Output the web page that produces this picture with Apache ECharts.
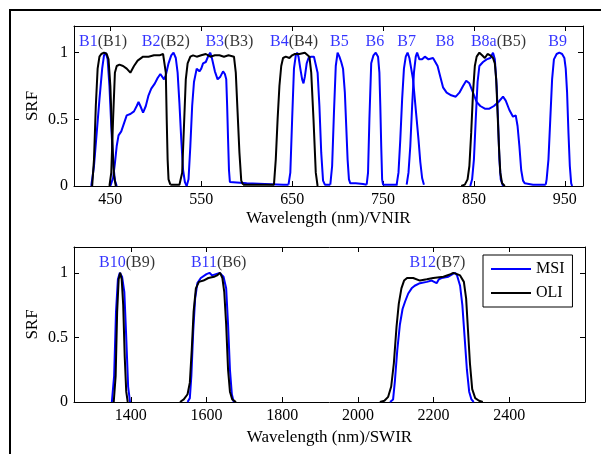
<!DOCTYPE html>
<html><head><meta charset="utf-8">
<script src="https://cdn.jsdelivr.net/npm/echarts@6/dist/echarts.min.js"></script>
<style>html,body{margin:0;padding:0;background:#fff}#c{width:601px;height:454px}</style>
</head><body><div id="c"></div>
<script>
// ---------- VNIR (top panel) : MSI bands ----------
const msiB1 = [[429,0],[432,0.15],[435,0.4],[438,0.65],[441,0.88],[443,0.98],[445,1.0],[447,0.95],[449,0.75],[451,0.45],[453,0.18],[455,0.04],[457,0]];
const msiB2 = [[450,0],[453,0.06],[455,0.17],[457,0.3],[459,0.38],[462,0.41],[465,0.47],[468,0.53],[472,0.54],[476,0.56],[479,0.6],[481,0.63],[483,0.6],[486,0.55],[489,0.6],[492,0.68],[495,0.73],[499,0.77],[502,0.81],[505,0.84],[507,0.83],[509,0.8],[511,0.83],[514,0.92],[517,0.98],[519.5,1.0],[522,0.96],[524,0.85],[526,0.62],[528,0.35],[530,0.12],[532,0.03],[534,0]];
const msiB3 = [[534,0],[536,0.05],[538,0.3],[540,0.6],[542,0.78],[545,0.88],[548,0.86],[550,0.88],[552,0.92],[555,0.93],[558,0.98],[560,1.0],[562,0.95],[565,0.86],[568,0.8],[571,0.82],[574,0.86],[576,0.84],[577.5,0.8],[578.5,0.6],[579.5,0.35],[580.5,0.12],[581.5,0.03],[583,0.02],[600,0.02],[620,0.015],[640,0.01],[646,0.01]];
const msiB4 = [[646,0.01],[648,0.1],[650,0.5],[652,0.88],[654,0.98],[655.5,1.0],[657,0.97],[659,0.88],[661,0.8],[662.5,0.77],[664,0.82],[666,0.92],[668,0.96],[671,0.97],[674,0.97],[676,0.96],[678,0.85],[680,0.6],[682,0.25],[684,0.04],[686,0.01],[692,0.01]];
const msiB5 = [[692,0.01],[694,0.15],[696,0.55],[698,0.9],[700,1.0],[702,0.97],[704,0.93],[706,0.88],[708,0.7],[709.5,0.45],[711,0.2],[712.5,0.05],[714,0.02],[720,0.02],[728,0.015],[732,0.01]];
const msiB6 = [[732,0.01],[733.5,0.1],[735,0.5],[737,0.92],[739.5,0.98],[742,1.0],[744.5,0.97],[746,0.85],[747,0.6],[748,0.3],[749,0.05],[750,0.01],[766,0.01]];
const msiB7 = [[765,0.01],[767,0.1],[769,0.35],[771,0.65],[773,0.88],[775,0.97],[777,1.0],[779,0.96],[781,0.88],[783,0.8],[785,0.65],[787,0.5],[789,0.35],[791,0.18],[793,0.06],[795,0.01]];
const msiB8 = [[776,0.01],[778,0.1],[780,0.3],[782,0.6],[784,0.85],[786,0.97],[787.5,1.0],[790,0.95],[793,0.95],[796,0.97],[800,0.95],[805,0.96],[810,0.9],[813,0.82],[816,0.74],[820,0.7],[825,0.68],[830,0.67],[834,0.7],[838,0.75],[841.5,0.79],[845,0.77],[849,0.7],[853,0.63],[857,0.6],[862,0.58],[867,0.58],[872,0.6],[877,0.63],[882,0.67],[885,0.64],[889,0.57],[893,0.52],[896,0.53],[898,0.45],[900,0.3],[902,0.12],[904,0.04],[906,0.02],[915,0.01],[929,0.01]];
const msiB8a = [[846,0],[848,0.05],[850,0.2],[852,0.5],[854,0.78],[856,0.9],[860,0.93],[864,0.95],[868,0.96],[871,1.0],[873,0.95],[875,0.75],[876.5,0.5],[878,0.2],[879.5,0.05],[882,0]];
const msiB9 = [[929,0.01],[930,0.05],[932,0.2],[934,0.5],[936,0.8],[938,0.95],[941,0.99],[944,1.0],[947,0.99],[949.5,0.96],[951,0.88],[952.5,0.7],[954,0.4],[955.5,0.15],[957,0.02],[958,0]];
// ---------- VNIR : OLI bands ----------
const oliB1 = [[430,0],[432,0.2],[434,0.6],[436,0.88],[438,0.97],[440,0.99],[443,1.0],[446,0.99],[448,0.95],[450,0.75],[452,0.35],[454,0.08],[456,0]];
const oliB2 = [[449,0],[451,0.1],[453,0.5],[455,0.85],[457,0.9],[460,0.91],[464,0.9],[468,0.88],[472,0.85],[476,0.9],[480,0.94],[486,0.97],[492,0.97],[498,0.98],[504,0.98],[508,0.99],[510,1.0],[511,0.85],[512,0.5],[513,0.2],[514,0.05],[516,0.01]];
const oliB3 = [[516,0.01],[526,0.01],[529,0.1],[531,0.45],[533,0.8],[535,0.92],[538,0.97],[541,0.98],[545,0.97],[550,0.98],[555,0.99],[560,0.97],[565,0.98],[570,0.98],[575,0.97],[580,0.98],[586,0.97],[588,0.85],[590,0.55],[592,0.25],[594,0.04],[596,0.01]];
const oliB4 = [[596,0.01],[630,0.01],[632,0.2],[634,0.5],[636,0.75],[638,0.9],[640,0.96],[643,0.97],[647,0.96],[650,0.98],[653,0.99],[658,0.99],[664,1.0],[669,0.97],[671,0.85],[673.5,0.5],[676,0.1],[678,0]];
const oliB5 = [[836,0],[840,0.01],[843,0.05],[845,0.15],[847,0.4],[849,0.7],[851,0.9],[853,0.97],[856,1.0],[859,0.98],[862,0.96],[865,0.99],[868,0.98],[871,0.96],[873,0.92],[874.5,0.8],[876,0.55],[877.5,0.3],[879,0.1],[881,0.02],[884,0]];
// ---------- SWIR (bottom panel) ----------
const msiB10 = [[1350,0],[1356,0.2],[1361,0.7],[1366,0.95],[1371,1.0],[1377,0.97],[1383,0.85],[1388,0.5],[1393,0.12],[1398,0]];
const msiB11 = [[1550,0],[1556,0.03],[1560,0.2],[1565,0.55],[1570,0.8],[1576,0.92],[1585,0.96],[1600,0.99],[1608,1.0],[1615,0.98],[1625,0.99],[1635,1.0],[1645,0.97],[1652,0.88],[1657,0.6],[1662,0.25],[1667,0.06],[1672,0]];
const msiB12 = [[2085,0],[2093,0.02],[2098,0.17],[2104,0.4],[2111,0.6],[2118,0.72],[2125,0.78],[2133,0.84],[2142,0.88],[2150,0.9],[2164,0.92],[2182,0.93],[2195,0.94],[2200,0.94],[2208,0.92],[2214,0.95],[2221,0.96],[2239,0.97],[2250,0.99],[2257,1.0],[2262,0.98],[2270,0.9],[2276,0.75],[2282,0.5],[2288,0.25],[2294,0.08],[2300,0.02],[2306,0]];
const oliB9 = [[1355,0],[1360,0.2],[1364,0.7],[1368,0.95],[1372,1.0],[1376,0.95],[1380,0.75],[1384,0.35],[1388,0.08],[1392,0]];
const oliB6 = [[1530,0],[1540,0.02],[1550,0.06],[1556,0.15],[1561,0.4],[1566,0.7],[1572,0.88],[1580,0.93],[1592,0.94],[1605,0.96],[1620,0.97],[1628,0.98],[1636,1.0],[1642,0.96],[1647,0.85],[1652,0.6],[1657,0.25],[1662,0.08],[1668,0.02],[1678,0]];
const oliB7 = [[2058,0],[2070,0.01],[2080,0.04],[2088,0.12],[2095,0.3],[2102,0.58],[2108,0.76],[2115,0.88],[2122,0.94],[2130,0.96],[2146,0.96],[2164,0.94],[2182,0.95],[2199,0.96],[2226,0.97],[2245,0.99],[2252,1.0],[2262,0.99],[2270,0.98],[2280,0.93],[2286,0.8],[2291,0.55],[2296,0.3],[2302,0.1],[2310,0.03],[2320,0.01],[2330,0]];

// ---------- axis ticks & band annotations ----------
const vnirTicks = [450,550,650,750,850,950];
const swirTicks = [1400,1600,1800,2000,2200,2400];
const srfTicks = [0,0.5,1];
const topLabelMSI = ['B1','B2','B3','B4','B5','B6','B7','B8','B8a','B9'];
const topLabelOLI = ['(B1)','(B2)','(B3)','(B4)','','','','','(B5)',''];
const topLabelX = [442,511,581,652,702,741,776,818,877,942];
const botLabelMSI = ['B10','B11','B12'];
const botLabelOLI = ['(B9)','(B6)','(B7)'];
const botLabelX = [1390,1632,2210];

const FONT = "'Liberation Serif','DejaVu Serif',serif";
const BLUE = '#0000ff', BLACK = '#000000';

const series = [];
function addLine(name, data, gi, color) {
  series.push({type:'line', name, data, xAxisIndex: gi*2, yAxisIndex: gi*2,
    showSymbol:false, symbol:'none', silent:true, animation:false,
    lineStyle:{width:2, color}, itemStyle:{color}});
}
[msiB1,msiB2,msiB3,msiB4,msiB5,msiB6,msiB7,msiB8,msiB8a,msiB9].forEach(d=>addLine('MSI', d, 0, BLUE));
[oliB1,oliB2,oliB3,oliB4,oliB5].forEach(d=>addLine('OLI', d, 0, BLACK));
[msiB10,msiB11,msiB12].forEach(d=>addLine('MSI', d, 1, BLUE));
[oliB9,oliB6,oliB7].forEach(d=>addLine('OLI', d, 1, BLACK));

function addLabels(xs, msi, oli, gi, y) {
  series.push({type:'scatter', xAxisIndex: gi*2, yAxisIndex: gi*2, symbolSize:0, silent:true, animation:false,
    data: xs.map((x,i)=>({value:[x,y], m:msi[i], o:oli[i]})),
    label:{show:true, position:'inside', fontFamily:FONT, fontSize:16,
      formatter:p=> '{m|'+p.data.m+'}' + (p.data.o ? '{o|'+p.data.o+'}' : ''),
      rich:{m:{color:BLUE, fontFamily:FONT, fontSize:16}, o:{color:BLACK, fontFamily:FONT, fontSize:16}}}});
}
addLabels(topLabelX, topLabelMSI, topLabelOLI, 0, 1.085);
addLabels(botLabelX, botLabelMSI, botLabelOLI, 1, 1.08);

function xAx(gi, min, max, ticks, name, main, gap) {
  return {type:'value', gridIndex:gi, min, max, position: main?'bottom':'top',
    name: main?name:'', nameLocation:'middle', nameGap:gap, nameMoveOverlap:false,
    nameTextStyle:{fontFamily:FONT, fontSize:17, color:'#000'},
    axisLine:{show:true, onZero:false, lineStyle:{color:'#000', width:1}},
    axisTick:{show:true, inside:true, length:5, customValues:ticks, lineStyle:{color:'#000'}},
    axisLabel:{show:main, customValues:ticks, margin:6, fontFamily:FONT, fontSize:16, color:'#000', formatter:v=>String(v)},
    splitLine:{show:false}};
}
function yAx(gi, main) {
  return {type:'value', gridIndex:gi, min:0, max:1.2, position: main?'left':'right',
    name: main?'SRF':'', nameLocation:'middle', nameGap:33, nameRotate:90, nameMoveOverlap:false,
    nameTextStyle:{fontFamily:FONT, fontSize:17, color:'#000'},
    axisLine:{show:true, onZero:false, lineStyle:{color:'#000', width:1}},
    axisTick:{show:true, inside:true, length:5, customValues:srfTicks, lineStyle:{color:'#000'}},
    axisLabel:{show:main, customValues:srfTicks, margin:6, fontFamily:FONT, fontSize:16, color:'#000', formatter:v=>String(v)},
    splitLine:{show:false}};
}

const chart = echarts.init(document.getElementById('c'), null, {renderer:'canvas'});
chart.setOption({
  animation:false,
  backgroundColor:'#fff',
  grid:[{left:74, top:26, right:18, height:160},{left:74, top:247, right:16, height:155}],
  xAxis:[xAx(0,410,970,vnirTicks,'Wavelength (nm)/VNIR',true,24), xAx(0,410,970,vnirTicks,'',false,24),
         xAx(1,1250,2600,swirTicks,'Wavelength (nm)/SWIR',true,27), xAx(1,1250,2600,swirTicks,'',false,27)],
  yAxis:[yAx(0,true), yAx(0,false), yAx(1,true), yAx(1,false)],
  legend:{data:['MSI','OLI'], orient:'vertical', left:483, top:255, itemWidth:40, itemHeight:2, icon:'rect',
    itemGap:8, padding:[6,8,6,8], borderColor:'#000', borderWidth:1, backgroundColor:'#fff', selectedMode:false,
    textStyle:{fontFamily:FONT, fontSize:16, color:'#000'}},
  graphic:[{type:'rect', shape:{x:10, y:10, width:620, height:480}, style:{fill:'none', stroke:'#000', lineWidth:2}, silent:true}],
  series
});
</script></body></html>
